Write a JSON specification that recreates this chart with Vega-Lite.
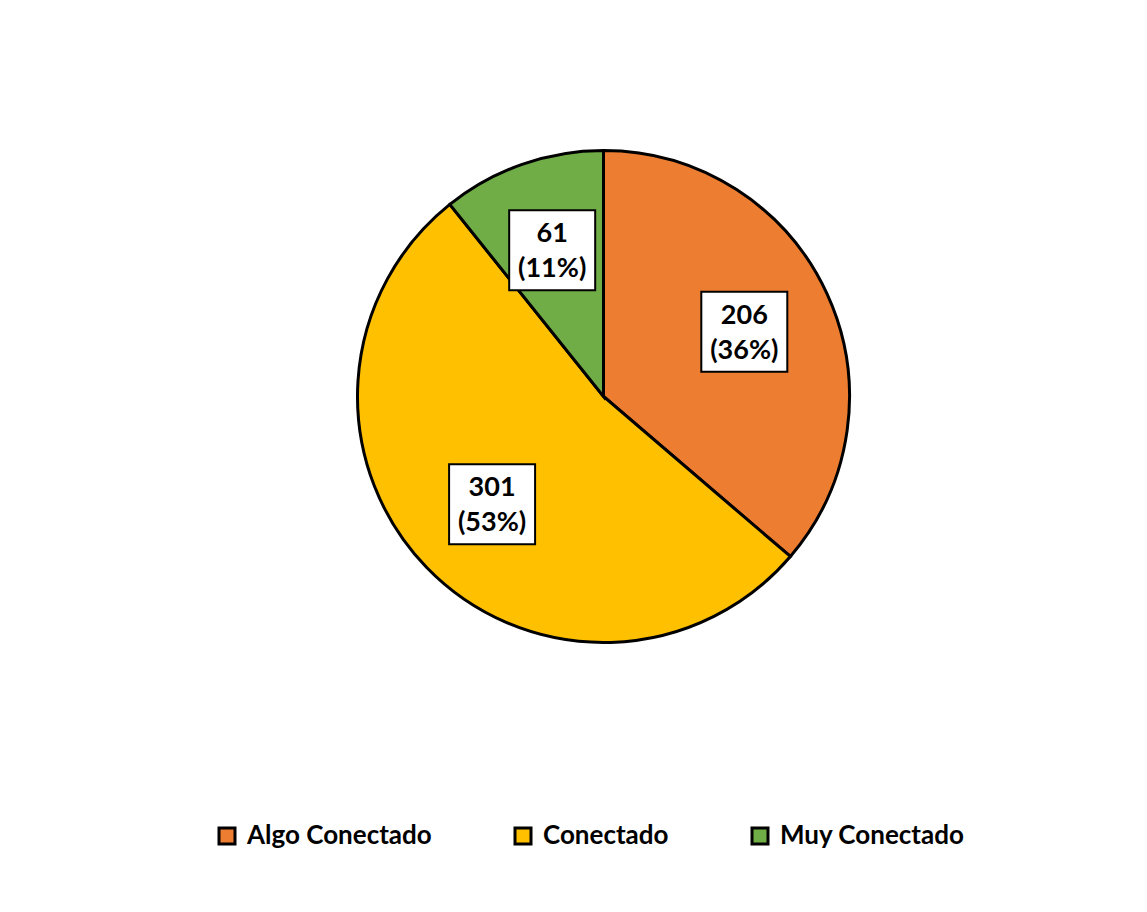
{
  "$schema": "https://vega.github.io/schema/vega-lite/v6.json",
  "width": 493,
  "height": 493,
  "autosize": {"type": "none"},
  "padding": {"left": 357, "top": 150, "right": 297, "bottom": 269},
  "background": "white",
  "config": {"view": {"stroke": null}},
  "data": {
    "values": [
      {"category": "Algo Conectado", "value": 206, "order": 1},
      {"category": "Conectado", "value": 301, "order": 2},
      {"category": "Muy Conectado", "value": 61, "order": 3}
    ]
  },
  "transform": [
    {"window": [{"op": "sum", "field": "value", "as": "cum"}], "sort": [{"field": "order"}], "frame": [null, 0]},
    {"joinaggregate": [{"op": "sum", "field": "value", "as": "total"}]},
    {"calculate": "(datum.cum - datum.value / 2) / datum.total * 2 * PI", "as": "mid"},
    {"calculate": "155 * sin(datum.mid)", "as": "lx"},
    {"calculate": "155 * cos(datum.mid)", "as": "ly"},
    {"calculate": "datum.lx - 43", "as": "bx1"},
    {"calculate": "datum.lx + 43", "as": "bx2"},
    {"calculate": "datum.ly - 40", "as": "by1"},
    {"calculate": "datum.ly + 40", "as": "by2"},
    {"calculate": "[format(datum.value, 'd'), '(' + format(datum.value / datum.total, '.0%') + ')']", "as": "label"}
  ],
  "layer": [
    {
      "mark": {"type": "arc", "outerRadius": 246, "stroke": "black", "strokeWidth": 3},
      "encoding": {
        "theta": {"field": "value", "type": "quantitative", "stack": true},
        "order": {"field": "order", "type": "quantitative"},
        "color": {
          "field": "category",
          "type": "nominal",
          "scale": {"domain": ["Algo Conectado", "Conectado", "Muy Conectado"], "range": ["#ED7D31", "#FFC000", "#70AD47"]},
          "legend": {
            "orient": "none",
            "legendX": -143,
            "legendY": 673,
            "direction": "horizontal",
            "title": null,
            "symbolType": "square",
            "symbolSize": 256,
            "symbolStrokeColor": "black",
            "symbolStrokeWidth": 3,
            "symbolOpacity": 1,
            "labelFont": "Lato",
            "labelFontSize": 26,
            "labelFontWeight": "bold",
            "labelColor": "black",
            "labelOffset": 7,
            "labelLimit": 0,
            "columnPadding": 77
          }
        }
      }
    },
    {
      "mark": {"type": "rect", "fill": "white", "stroke": "black", "strokeWidth": 2},
      "encoding": {
        "x": {"field": "bx1", "type": "quantitative", "scale": {"domain": [-246.5, 246.5], "nice": false, "zero": false}, "axis": null},
        "x2": {"field": "bx2"},
        "y": {"field": "by1", "type": "quantitative", "scale": {"domain": [-246.5, 246.5], "nice": false, "zero": false}, "axis": null},
        "y2": {"field": "by2"}
      }
    },
    {
      "mark": {"type": "text", "font": "Lato", "fontSize": 27, "fontWeight": "bold", "color": "black", "lineHeight": 35, "baseline": "middle", "align": "center", "dy": -16},
      "encoding": {
        "x": {"field": "lx", "type": "quantitative", "scale": {"domain": [-246.5, 246.5], "nice": false, "zero": false}, "axis": null},
        "y": {"field": "ly", "type": "quantitative", "scale": {"domain": [-246.5, 246.5], "nice": false, "zero": false}, "axis": null},
        "text": {"field": "label"}
      }
    }
  ]
}
